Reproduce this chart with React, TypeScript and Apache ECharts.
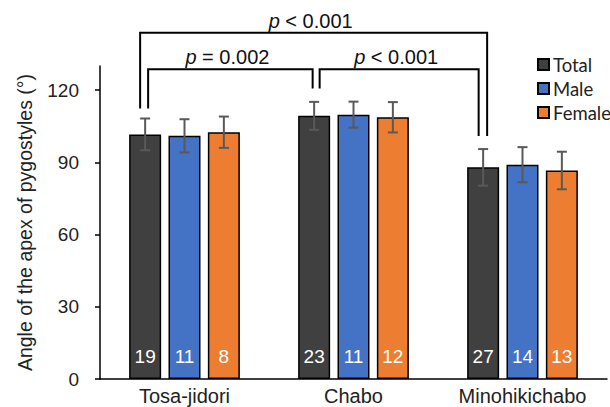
import React, { useEffect, useRef } from "react";
import * as echarts from "echarts";

const categories = ["Tosa-jidori", "Chabo", "Minohikichabo"];
const seriesNames = ["Total", "Male", "Female"];
const totalMean = [101.6, 109.3, 87.9];
const totalSd = [6.6, 5.8, 7.6];
const maleMean = [101.0, 109.8, 89.0];
const maleSd = [6.9, 5.4, 7.3];
const femaleMean = [102.5, 108.7, 86.6];
const femaleSd = [6.5, 6.3, 7.8];
const totalN = [19, 23, 27];
const maleN = [11, 11, 14];
const femaleN = [8, 12, 13];
const yTicks = [0, 30, 60, 90, 120];
// brackets: [fromCategory, toCategory, level, leftLegBottom, rightLegBottom]
const brackets = [
  [0, 2, 143.8, 112.4, 100.9],
  [0, 1, 128.6, 112.4, 120.7],
  [1, 2, 128.6, 120.7, 100.9],
];
const bracketLabels = ["{i|p} < 0.001", "{i|p} = 0.002", "{i|p} < 0.001"];

const colors = ["#404040", "#4472C4", "#ED7D31"];
const BAR_W = 32;
const BAR_GAP = 0.23;
const SPACING = BAR_W * (1 + BAR_GAP);
const CAP = 5;
const LEG_OFFSETS = [
  [-5, 4],
  [3, -1.5],
  [5.5, -4.5],
];
const FONT = "Liberation Sans";

export default function App() {
  const ref = useRef<HTMLDivElement>(null);
  useEffect(() => {
    if (!ref.current) return;
    document.body.style.margin = "0";
    const chart = echarts.init(ref.current, null, { renderer: "svg" });
    const means = [totalMean, maleMean, femaleMean];
    const sds = [totalSd, maleSd, femaleSd];
    const ns = [totalN, maleN, femaleN];

    const barSeries = seriesNames.map((name, s) => ({
      name,
      type: "bar",
      barWidth: BAR_W,
      barGap: `${BAR_GAP * 100}%`,
      data: means[s].map((v, i) => ({
        value: v,
        label: { formatter: String(ns[s][i]) },
      })),
      itemStyle: { color: colors[s], borderColor: "#000", borderWidth: 1.5 },
      label: {
        show: true,
        position: "insideBottom",
        distance: 13,
        color: "#fff",
        fontSize: 19,
        fontFamily: FONT,
      },
      z: 2,
    }));

    const errData: number[][] = [];
    for (let s = 0; s < 3; s++) {
      for (let i = 0; i < categories.length; i++) {
        errData.push([i, means[s][i], sds[s][i], s]);
      }
    }

    const option = {
      animation: false,
      textStyle: { fontFamily: FONT },
      grid: { left: 100, right: 3, top: 66, bottom: 28, containLabel: false },
      legend: {
        data: seriesNames,
        orient: "vertical",
        left: 532,
        top: 50,
        itemWidth: 11,
        itemHeight: 11,
        itemGap: 5,
        icon: "rect",
        textStyle: { fontFamily: "Lato", fontSize: 18.5, color: "#222", padding: [0, 0, 0, -1] },
      },
      xAxis: {
        type: "category",
        data: categories,
        axisLine: { lineStyle: { color: "#000", width: 1.5 } },
        axisTick: { show: false },
        axisLabel: { fontSize: 20, color: "#222", margin: 7, fontFamily: FONT },
      },
      yAxis: {
        type: "value",
        min: 0,
        max: 130,
        interval: 10,
        name: "Angle of the apex of pygostyles (°)",
        nameLocation: "middle",
        nameRotate: 90,
        nameGap: 65,
        nameTextStyle: { fontSize: 19.5, color: "#222", fontFamily: FONT },
        axisLine: { show: true, lineStyle: { color: "#000", width: 1.5 } },
        axisTick: { show: true, length: 5, lineStyle: { color: "#000", width: 1.5 }, customValues: yTicks },
        axisLabel: { fontSize: 19, color: "#222", margin: 21, fontFamily: FONT, customValues: yTicks },
        splitLine: { show: false },
      },
      series: [
        ...barSeries,
        {
          type: "custom",
          name: "err",
          dimensions: ["cat", "mean", "sd", "s"],
          encode: { x: 0, y: 1 },
          data: errData,
          z: 5,
          clip: false,
          renderItem: (params: any, api: any) => {
            const cat = api.value(0);
            const mean = api.value(1);
            const sd = api.value(2);
            const s = api.value(3);
            const x = api.coord([cat, mean])[0] + (s - 1) * SPACING;
            const yTop = api.coord([cat, mean + sd])[1];
            const yBot = api.coord([cat, mean - sd])[1];
            const style = { stroke: "#595959", lineWidth: 2 };
            return {
              type: "group",
              children: [
                { type: "line", shape: { x1: x, y1: yTop, x2: x, y2: yBot }, style },
                { type: "line", shape: { x1: x - CAP, y1: yTop, x2: x + CAP, y2: yTop }, style },
                { type: "line", shape: { x1: x - CAP, y1: yBot, x2: x + CAP, y2: yBot }, style },
              ],
            };
          },
        },
        {
          type: "custom",
          name: "brackets",
          dimensions: ["from", "to", "level", "legL", "legR"],
          encode: { x: [0, 1], y: [2, 3, 4] },
          data: brackets,
          z: 6,
          clip: false,
          renderItem: (params: any, api: any) => {
            const idx = params.dataIndex;
            const from = api.value(0);
            const to = api.value(1);
            const level = api.value(2);
            const legL = api.value(3);
            const legR = api.value(4);
            const xL = api.coord([from, level])[0] - SPACING + LEG_OFFSETS[idx][0];
            const xR = api.coord([to, level])[0] - SPACING + LEG_OFFSETS[idx][1];
            const yTop = api.coord([from, level])[1];
            const yL = api.coord([from, legL])[1];
            const yR = api.coord([to, legR])[1];
            return {
              type: "group",
              children: [
                {
                  type: "polyline",
                  shape: { points: [[xL, yL], [xL, yTop], [xR, yTop], [xR, yR]] },
                  style: { stroke: "#000", lineWidth: 2, fill: null },
                },
                {
                  type: "text",
                  x: (xL + xR) / 2 - 3,
                  y: yTop - 2,
                  style: {
                    text: bracketLabels[idx],
                    fontSize: 20,
                    fontFamily: FONT,
                    fill: "#111",
                    align: "center",
                    verticalAlign: "bottom",
                    rich: { i: { fontStyle: "italic", fontSize: 20, fontFamily: FONT, fill: "#111" } },
                  },
                },
              ],
            };
          },
        },
      ],
    };
    chart.setOption(option as any);
    return () => chart.dispose();
  }, []);
  return <div ref={ref} style={{ width: 610, height: 407 }} />;
}
